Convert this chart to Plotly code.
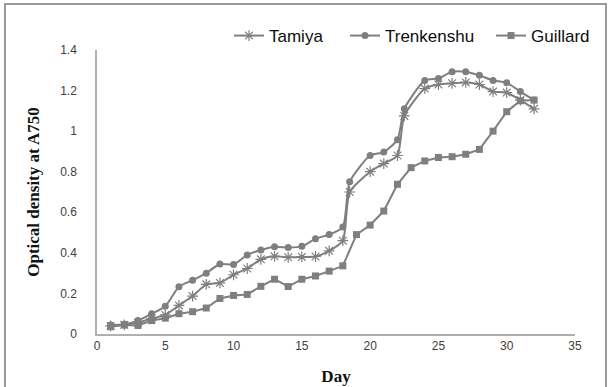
import plotly.graph_objects as go

# ---- data ----
days_tt = [1, 2, 3, 4, 5, 6, 7, 8, 9, 10, 11, 12, 13, 14, 15, 16, 17, 18, 18.5,
           20, 21, 22, 22.5, 24, 25, 26, 27, 28, 29, 30, 31, 32]
days_g = list(range(1, 33))

tamiya = [0.040, 0.045, 0.056, 0.076, 0.094, 0.141, 0.187, 0.245, 0.252, 0.292,
          0.323, 0.368, 0.383, 0.378, 0.380, 0.382, 0.410, 0.460, 0.700,
          0.800, 0.840, 0.880, 1.075, 1.210, 1.230, 1.236, 1.240, 1.230, 1.195,
          1.190, 1.153, 1.110]
trenkenshu = [0.044, 0.048, 0.066, 0.100, 0.137, 0.233, 0.265, 0.300, 0.345, 0.342,
              0.390, 0.414, 0.430, 0.426, 0.432, 0.470, 0.490, 0.527, 0.750,
              0.880, 0.897, 0.958, 1.110, 1.250, 1.260, 1.293, 1.293, 1.275, 1.250,
              1.239, 1.195, 1.153]
guillard = [0.036, 0.044, 0.042, 0.066, 0.078, 0.100, 0.110, 0.128, 0.175, 0.190,
            0.195, 0.235, 0.270, 0.234, 0.270, 0.286, 0.310, 0.336, 0.490, 0.537,
            0.606, 0.738, 0.820, 0.853, 0.870, 0.874, 0.886, 0.910, 1.000, 1.096,
            1.150, 1.153]

x_ticks = [0, 5, 10, 15, 20, 25, 30, 35]
y_ticks = [0, 0.2, 0.4, 0.6, 0.8, 1, 1.2, 1.4]
y_tick_text = ["0", "0.2", "0.4", "0.6", "0.8", "1", "1.2", "1.4"]

GRAY = "#7f7f7f"

fig = go.Figure()
fig.add_trace(go.Scatter(
    x=days_tt, y=tamiya, name="Tamiya", mode="lines+markers", legend="legend",
    line=dict(color=GRAY, width=2, shape="spline", smoothing=0.6),
    marker=dict(symbol="asterisk-open", size=9, color=GRAY, line=dict(color=GRAY, width=1.2))))
fig.add_trace(go.Scatter(
    x=days_tt, y=trenkenshu, name="Trenkenshu", mode="lines+markers", legend="legend2",
    line=dict(color=GRAY, width=2, shape="spline", smoothing=0.6),
    marker=dict(symbol="circle", size=7, color=GRAY)))
fig.add_trace(go.Scatter(
    x=days_g, y=guillard, name="Guillard", mode="lines+markers", legend="legend3",
    line=dict(color=GRAY, width=2),
    marker=dict(symbol="square", size=7, color=GRAY)))

L, R, T, B = 97, 35, 50, 53
W, H = 610, 387
pw, ph = W - L - R, H - T - B


def px2paper_x(px):
    return (px - L) / pw


def px2paper_y(py):
    return (H - B - py) / ph


fig.add_shape(type="rect", xref="paper", yref="paper",
              x0=px2paper_x(5), x1=px2paper_x(606),
              y0=px2paper_y(390), y1=px2paper_y(4),
              line=dict(color="#9a9a9a", width=2), fillcolor="rgba(0,0,0,0)",
              layer="below")

leg_font = dict(family="Liberation Sans, Arial", size=17, color="#0d0d0d")


def leg(px_left):
    return dict(orientation="h", x=px2paper_x(px_left), xanchor="left",
                y=px2paper_y(36), yanchor="middle", font=leg_font,
                bgcolor="rgba(0,0,0,0)")


fig.update_layout(
    width=W, height=H,
    margin=dict(l=L, r=R, t=T, b=B, autoexpand=False),
    paper_bgcolor="white", plot_bgcolor="white",
    showlegend=True,
    legend=leg(229),
    legend2=leg(345),
    legend3=leg(491),
    xaxis=dict(range=[0, 35], tickvals=x_ticks, showgrid=False, zeroline=False,
               showline=True, linecolor="#b0b0b0", linewidth=1.5, ticks="",
               tickfont=dict(family="Liberation Sans, Arial", size=12, color="#404040"),
               title=dict(text="<b>Day</b>", standoff=18,
                          font=dict(family="Liberation Serif, Times New Roman", size=17,
                                    color="#111111"))),
    yaxis=dict(range=[0, 1.4], tickvals=y_ticks, ticktext=y_tick_text, showgrid=False,
               zeroline=False, showline=True, linecolor="#b0b0b0", linewidth=1.5,
               ticks="", ticklabelstandoff=16,
               tickfont=dict(family="Liberation Sans, Arial", size=12, color="#404040"),
               title=dict(text="<b>Optical density at A750</b>", standoff=16,
                          font=dict(family="Liberation Serif, Times New Roman", size=17,
                                    color="#111111"))),
)

fig.write_html("out.html")
